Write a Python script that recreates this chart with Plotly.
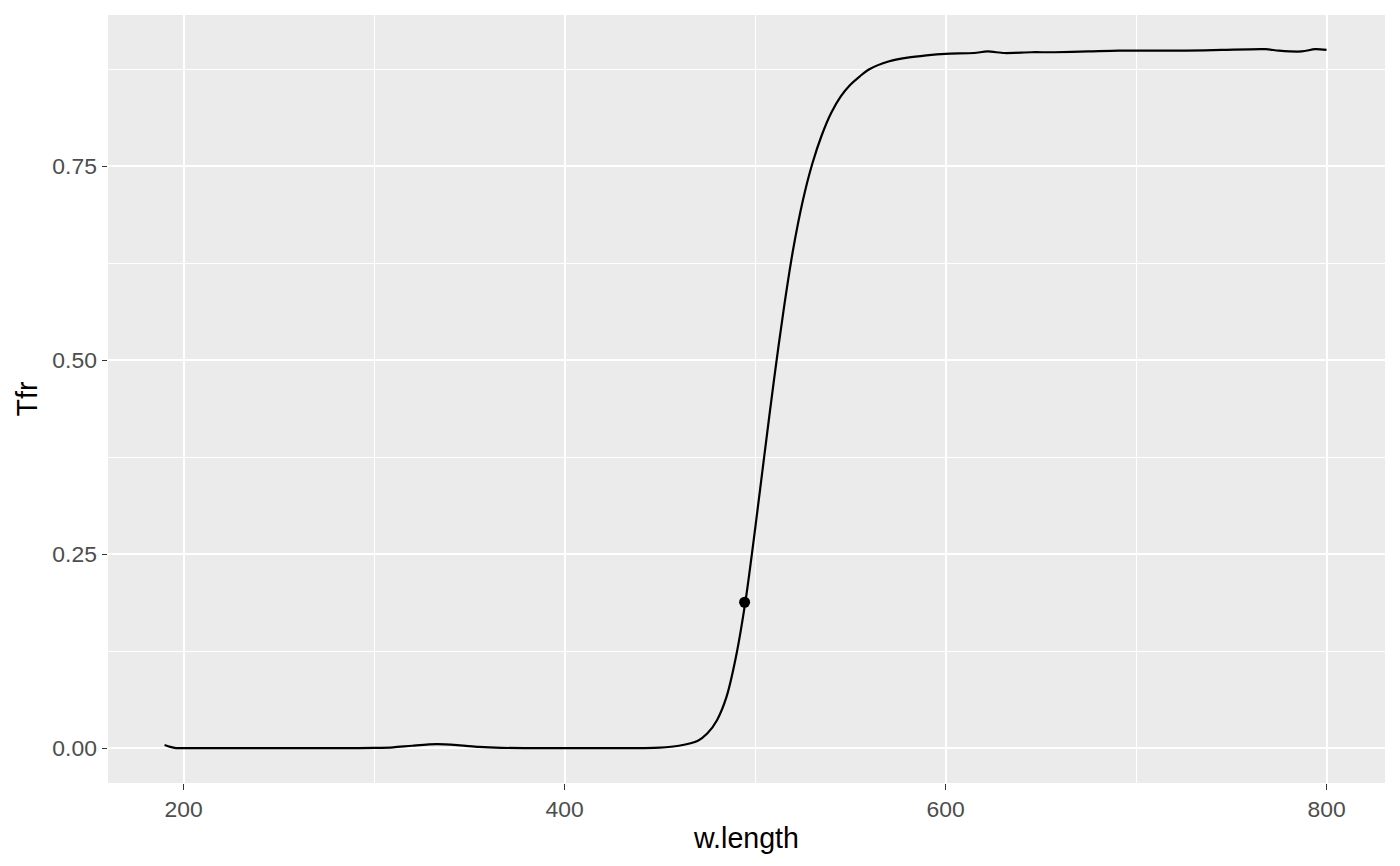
import plotly.graph_objects as go

# Spectral transmittance (fraction)
w_length = [190, 193, 196, 200, 250, 290, 300, 310, 320, 333, 345, 355, 367, 380,
            440, 450, 460, 470, 475, 480, 485, 490, 495, 500, 505, 510, 515, 520,
            525, 530, 535, 540, 545, 550, 555, 560, 570, 580, 590, 600,
            615, 622, 631, 645, 657, 675, 691, 710, 726, 745, 768, 775, 787, 794, 800]
Tfr = [0.0039, 0.0015, 0.0, 0.0, 0.0, 0.0, 0.0003, 0.001, 0.003, 0.005, 0.0035,
       0.0015, 0.0003, 0.0, 0.0, 0.0005, 0.003, 0.0095, 0.019, 0.036, 0.066, 0.118,
       0.19, 0.282, 0.38, 0.476, 0.565, 0.643, 0.705, 0.753, 0.790, 0.819, 0.840,
       0.855, 0.866, 0.875, 0.885, 0.890, 0.893, 0.895,
       0.896, 0.898, 0.896, 0.897, 0.897, 0.898, 0.899, 0.899, 0.899, 0.900, 0.901,
       0.899, 0.898, 0.901, 0.900]

# Highlighted point
point_w = [494.5]
point_T = [0.188]

x_ticks = [200, 400, 600, 800]
x_minor = [300, 500, 700]
y_ticks = [0.0, 0.25, 0.5, 0.75]
y_minor = [0.125, 0.375, 0.625, 0.875]
y_ticklabels = ["0.00", "0.25", "0.50", "0.75"]

fig = go.Figure()
fig.add_trace(go.Scatter(x=w_length, y=Tfr, mode="lines",
                         line=dict(color="black", width=2.2, shape="spline", smoothing=0.8),
                         showlegend=False, hoverinfo="x+y"))
fig.add_trace(go.Scatter(x=point_w, y=point_T, mode="markers",
                         marker=dict(color="black", size=11),
                         showlegend=False))

tickfont = dict(family="Liberation Sans, Arial, sans-serif", size=22.9, color="#4D4D4D")
titlefont = dict(family="Liberation Sans, Arial, sans-serif", size=28.6, color="black")

fig.update_layout(
    width=1400, height=866,
    margin=dict(l=108, r=15, t=15, b=83),
    paper_bgcolor="white",
    plot_bgcolor="#EBEBEB",
    xaxis=dict(range=[160.3, 830.7], tickvals=x_ticks, ticktext=[str(v) for v in x_ticks],
               showgrid=True, gridcolor="white", gridwidth=2.1,
               minor=dict(tickvals=x_minor, showgrid=True, gridcolor="white", gridwidth=1.1, ticks=""),
               ticks="outside", ticklen=5.5, tickwidth=1.1, tickcolor="#333333",
               tickfont=tickfont, zeroline=False, showline=False,
               title=dict(text="w.length", font=titlefont, standoff=6)),
    yaxis=dict(range=[-0.045, 0.945], tickvals=y_ticks, ticktext=y_ticklabels,
               showgrid=True, gridcolor="white", gridwidth=2.1,
               minor=dict(tickvals=y_minor, showgrid=True, gridcolor="white", gridwidth=1.1, ticks=""),
               ticks="outside", ticklen=5.5, tickwidth=1.1, tickcolor="#333333",
               tickfont=tickfont, zeroline=False, showline=False,
               title=dict(text="Tfr", font=titlefont, standoff=6)),
)

fig.write_html("out.html", config={"displayModeBar": False},
               post_script="document.body.style.margin='0';")
